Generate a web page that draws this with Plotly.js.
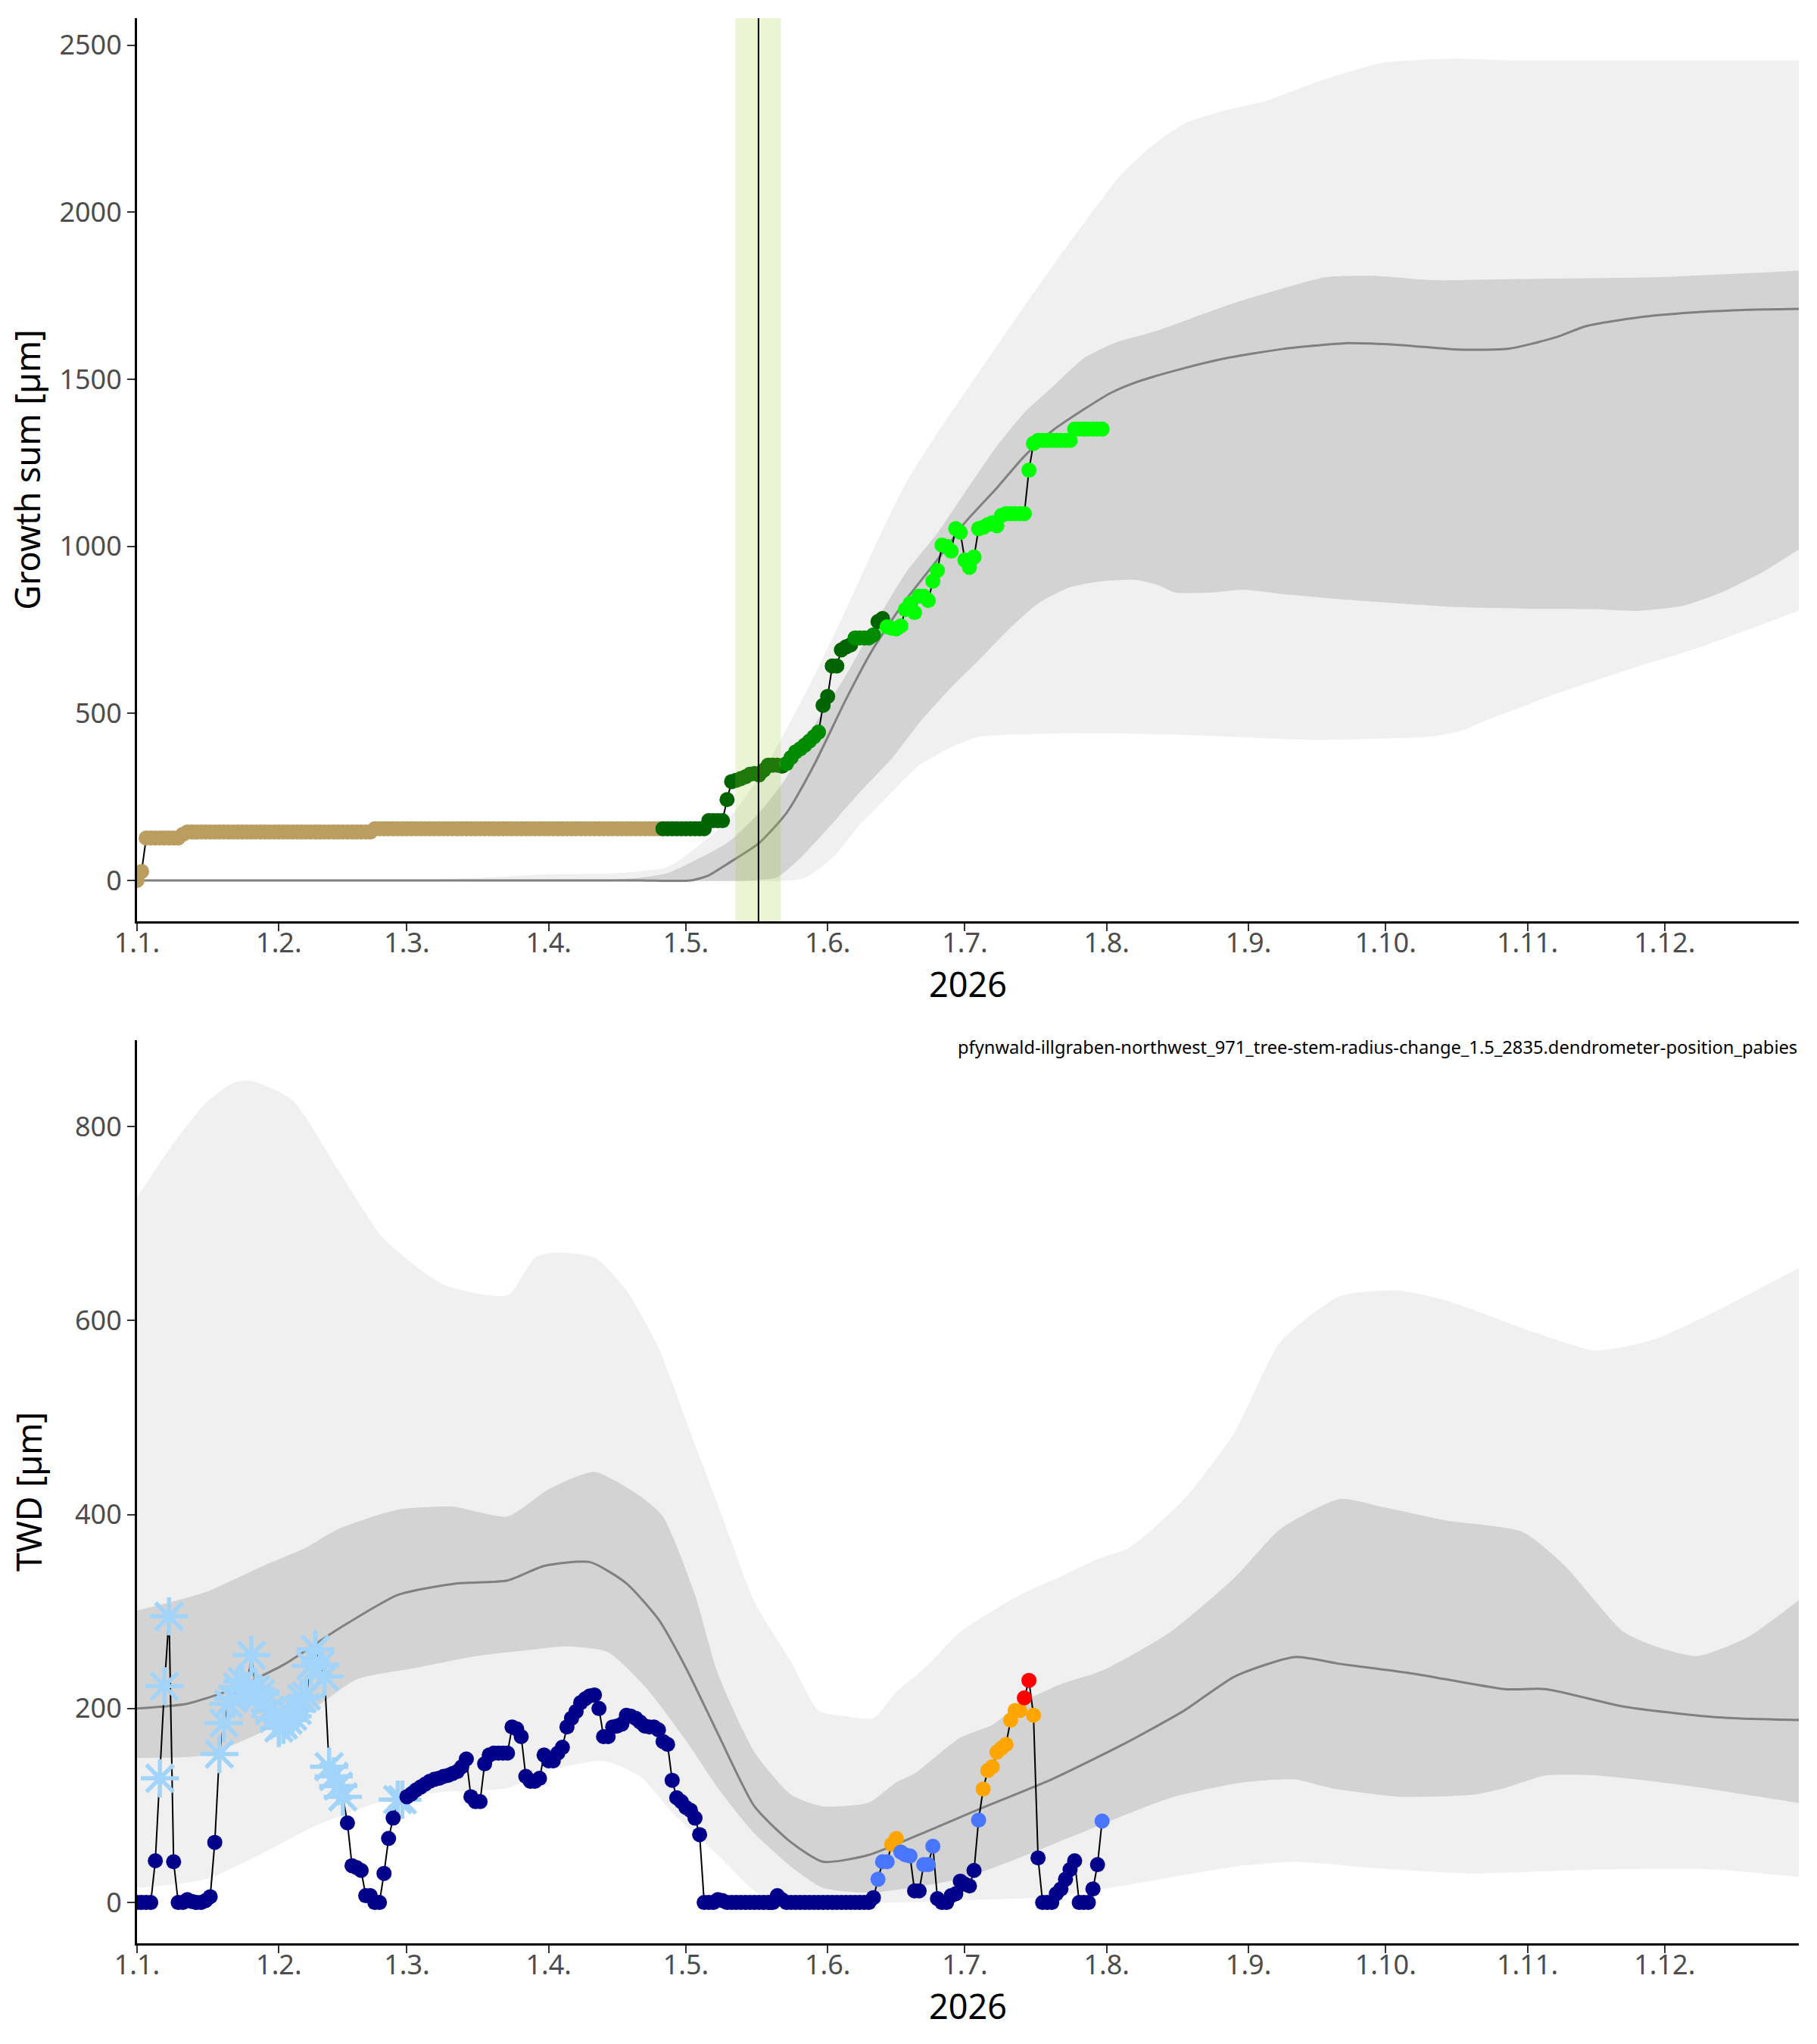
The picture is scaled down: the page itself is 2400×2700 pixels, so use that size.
<!DOCTYPE html>
<html>
<head>
<meta charset="utf-8">
<script src="https://cdn.plot.ly/plotly-3.0.1.min.js"></script>
<style>
html, body { margin: 0; padding: 0; background: #fff; }
#chart { width: 2400px; height: 2700px; }
</style>
</head>
<body>
<div id="chart"></div>
<script>
// daily series start on 1 Jan 2026, one value per day
const startDay = '2026-01-01';

// growth sum [µm], days 0..211
const growthSum = [
  0, 27, 127, 127, 127, 127, 127, 127, 127, 127,
  138, 145, 145, 145, 145, 145, 145, 145, 145, 145,
  145, 145, 145, 145, 145, 145, 145, 145, 145, 145,
  145, 145, 145, 145, 145, 145, 145, 145, 145, 145,
  145, 145, 145, 145, 145, 145, 145, 145, 145, 145,
  145, 145, 155, 155, 155, 155, 155, 155, 155, 155,
  155, 155, 155, 155, 155, 155, 155, 155, 155, 155,
  155, 155, 155, 155, 155, 155, 155, 155, 155, 155,
  155, 155, 155, 155, 155, 155, 155, 155, 155, 155,
  155, 155, 155, 155, 155, 155, 155, 155, 155, 155,
  155, 155, 155, 155, 155, 155, 155, 155, 155, 155,
  155, 155, 155, 155, 155, 155, 155, 155, 155, 155,
  155, 155, 155, 155, 155, 179, 179, 179, 179, 242,
  296, 300, 305, 310, 318, 320, 316, 330, 345, 345,
  345, 342, 350, 368, 385, 394, 405, 417, 430, 444,
  524, 551, 642, 642, 690, 699, 705, 726, 726, 726,
  726, 735, 775, 784, 759, 755, 753, 762, 811, 829,
  802, 851, 851, 838, 896, 928, 1004, 1000, 986, 1053,
  1042, 959, 937, 968, 1053, 1057, 1065, 1071, 1062, 1093,
  1098, 1098, 1098, 1098, 1098, 1228, 1308, 1317, 1317, 1317,
  1317, 1317, 1317, 1317, 1317, 1351, 1351, 1351, 1351, 1351,
  1351, 1351
];
// growth phases: first day of each phase and its colour
const phaseFrom = [0, 115, 142, 150, 157, 162, 164];
const phaseColor = ['#B99E60', '#006400', '#008B00', '#006400', '#008B00', '#006400', '#00FF00'];

// tree water deficit [µm], days 0..211
const twd = [
  0, 0, 0, 0, 43, 128, 223, 295, 42, 0,
  0, 3, 1, 0, 0, 2, 6, 62, 153, 185,
  205, 210, 222, 228, 218, 255, 220, 215, 205, 198,
  190, 180, 183, 188, 192, 198, 210, 213, 244, 261,
  245, 233, 140, 130, 120, 109, 82, 38, 36, 33,
  7, 7, 0, 0, 30, 66, 87, 106, 106, 109,
  112, 116, 119, 122, 125, 127, 128, 130, 131, 133,
  135, 140, 148, 109, 104, 104, 143, 152, 154, 154,
  154, 154, 181, 179, 171, 130, 125, 125, 128, 152,
  146, 146, 154, 160, 181, 190, 197, 206, 210, 213,
  214, 200, 171, 171, 181, 182, 184, 193, 192, 190,
  186, 182, 181, 181, 178, 166, 163, 126, 108, 104,
  98, 95, 87, 70, 0, 0, 0, 3, 2, 0,
  0, 0, 0, 0, 0, 0, 0, 0, 0, 0,
  7, 3, 0, 0, 0, 0, 0, 0, 0, 0,
  0, 0, 0, 0, 0, 0, 0, 0, 0, 0,
  0, 5, 24, 42, 42, 60, 66, 52, 49, 48,
  12, 12, 39, 39, 58, 4, 0, 0, 7, 9,
  22, 19, 17, 33, 85, 117, 136, 140, 155, 159,
  163, 188, 198, 198, 211, 229, 193, 46, 0, 0,
  0, 9, 14, 24, 34, 43, 0, 0, 0, 14,
  39, 84
];
const frozenDays = [5, 6, 7, 18, 19, 20, 21, 22, 23, 24, 25, 26, 27, 28, 29, 30, 31,
  32, 33, 34, 35, 36, 37, 38, 39, 40, 41, 42, 43, 44, 45, 57, 58];
const blueDays = [162, 163, 164, 167, 168, 169, 172, 173, 174, 184, 211];
const orangeDays = [165, 166, 185, 186, 187, 188, 189, 190, 191, 192, 193, 196];
const redDays = [194, 195];

// growth reference bands (day of year, value)
const gsOuterHiDay = [0, 30, 60, 75, 90, 105, 116, 122, 129, 136, 142, 148, 155, 162, 168, 175, 183, 194, 205, 215, 222, 229, 238, 247, 258, 272, 288, 300, 330, 364];
const gsOuterHiVal = [0, 0, 0, 8, 18, 22, 40, 95, 178, 309, 453, 610, 811, 1020, 1187, 1340, 1500, 1719, 1930, 2110, 2200, 2265, 2305, 2334, 2390, 2447, 2460, 2455, 2455, 2455];
const gsInnerHiDay = [0, 50, 100, 110, 116, 122, 129, 136, 142, 148, 155, 162, 168, 175, 181, 188, 194, 200, 207, 214, 222, 230, 240, 250, 260, 270, 283, 300, 333, 364];
const gsInnerHiVal = [0, 0, 0, 8, 22, 60, 112, 202, 309, 462, 614, 784, 919, 1040, 1161, 1300, 1400, 1475, 1563, 1610, 1641, 1680, 1729, 1770, 1806, 1810, 1797, 1800, 1806, 1826];
const gsMedDay = [0, 30, 60, 90, 110, 121, 125, 129, 136, 142, 148, 155, 161, 168, 175, 181, 188, 194, 200, 207, 213, 219, 228, 238, 250, 264, 276, 289, 300, 310, 317, 328, 340, 352, 364];
const gsMedVal = [0, 0, 0, 0, 0, 0, 15, 49, 112, 202, 345, 542, 695, 838, 960, 1071, 1175, 1270, 1345, 1410, 1460, 1494, 1530, 1563, 1590, 1608, 1603, 1589, 1592, 1625, 1660, 1685, 1700, 1708, 1711];
const gsInnerLoDay = [0, 50, 100, 135, 140, 145, 152, 158, 165, 171, 178, 184, 191, 197, 204, 211, 218, 223, 227, 235, 242, 250, 264, 275, 289, 305, 321, 328, 338, 346, 355, 364];
const gsInnerLoVal = [0, 0, 0, 0, 10, 67, 170, 264, 365, 471, 578, 659, 757, 829, 878, 896, 900, 885, 862, 862, 870, 858, 841, 830, 818, 813, 811, 807, 822, 860, 920, 997];
const gsOuterLoDay = [0, 50, 100, 143, 146, 152, 158, 165, 171, 178, 184, 191, 210, 230, 257, 283, 290, 295, 302, 308, 318, 327, 340, 352, 364];
const gsOuterLoVal = [0, 0, 0, 0, 8, 67, 166, 264, 345, 399, 430, 437, 441, 435, 421, 431, 450, 480, 515, 548, 595, 636, 690, 750, 811];

// TWD reference bands (day of year, value)
const twdOuterHiDay = [0, 8, 15, 21, 25, 34, 44, 54, 67, 81, 87, 91, 100, 107, 114, 122, 127, 135, 143, 149, 155, 161, 166, 173, 180, 193, 202, 210, 217, 229, 240, 250, 263, 275, 286, 306, 319, 332, 345, 364];
const twdOuterHiVal = [727, 783, 824, 845, 847, 827, 755, 684, 637, 626, 665, 670, 665, 631, 572, 472, 410, 310, 248, 198, 192, 190, 217, 245, 279, 317, 336, 354, 366, 416, 485, 578, 625, 631, 621, 587, 569, 581, 609, 656];
const twdInnerHiDay = [0, 15, 28, 37, 44, 57, 69, 81, 90, 100, 110, 115, 122, 127, 135, 143, 150, 160, 166, 170, 180, 187, 193, 202, 211, 226, 240, 250, 263, 273, 286, 303, 312, 325, 332, 341, 352, 364];
const twdInnerHiVal = [301, 320, 348, 366, 385, 405, 408, 398, 426, 444, 419, 398, 317, 236, 155, 111, 99, 103, 124, 133, 170, 183, 205, 225, 239, 279, 335, 385, 416, 407, 394, 382, 348, 279, 264, 254, 273, 314];
const twdMedDay = [0, 11, 21, 32, 44, 57, 70, 81, 89, 99, 107, 114, 120, 127, 135, 143, 150, 160, 173, 184, 200, 216, 229, 240, 253, 263, 279, 299, 308, 325, 345, 364];
const twdMedVal = [200, 205, 220, 245, 282, 317, 329, 332, 347, 351, 329, 292, 242, 174, 99, 62, 42, 49, 74, 96, 127, 164, 198, 233, 253, 246, 236, 220, 220, 202, 191, 188];
const twdInnerLoDay = [0, 15, 28, 38, 48, 61, 74, 87, 94, 103, 111, 120, 127, 135, 143, 150, 160, 173, 182, 195, 206, 226, 242, 253, 261, 276, 292, 299, 308, 319, 338, 364];
const twdInnerLoVal = [149, 152, 177, 198, 230, 242, 254, 261, 264, 258, 223, 167, 118, 71, 37, 15, 10, 18, 27, 50, 71, 108, 124, 127, 118, 109, 111, 118, 131, 131, 121, 102];
const twdOuterLoDay = [0, 15, 28, 38, 54, 67, 81, 90, 102, 110, 117, 127, 135, 140, 165, 185, 200, 220, 240, 253, 272, 292, 319, 345, 364];
const twdOuterLoVal = [15, 24, 52, 77, 105, 114, 118, 136, 146, 130, 93, 49, 12, 0, 0, 3, 6, 21, 37, 42, 35, 30, 34, 34, 26];

// growth onset marker
const onsetDate = '2026-05-16 21:00';
const onsetFrom = '2026-05-11 19:00';
const onsetTo = '2026-05-21 18:00';

const t0 = Date.parse(startDay + 'T00:00:00Z');
function toDate(d) {
  return new Date(t0 + d * 86400000).toISOString().slice(0, 19).replace('T', ' ');
}

const GREY_OUT = '#F0F0F0', GREY_IN = '#D3D3D3';
const SMOOTH = 0.6;

function bandTraces(loDay, loVal, hiDay, hiVal, color, xa, ya) {
  return [
    {x: loDay.map(toDate), y: loVal, xaxis: xa, yaxis: ya, type: 'scatter', mode: 'lines',
     line: {width: 0, shape: 'spline', smoothing: SMOOTH}, hoverinfo: 'skip', showlegend: false},
    {x: hiDay.map(toDate), y: hiVal, xaxis: xa, yaxis: ya, type: 'scatter', mode: 'lines',
     fill: 'tonexty', fillcolor: color,
     line: {width: 0, shape: 'spline', smoothing: SMOOTH}, hoverinfo: 'skip', showlegend: false}
  ];
}

function medTrace(day, val, xa, ya) {
  return {x: day.map(toDate), y: val, xaxis: xa, yaxis: ya, type: 'scatter', mode: 'lines',
    line: {color: '#808080', width: 3, shape: 'spline', smoothing: SMOOTH},
    hoverinfo: 'skip', showlegend: false};
}

const gsDates = growthSum.map((v, i) => toDate(i));
const gsColors = growthSum.map((v, i) => {
  let c = phaseColor[0];
  phaseFrom.forEach((f, k) => { if (i >= f) c = phaseColor[k]; });
  return c;
});

const twdDates = twd.map((v, i) => toDate(i));
function twdColor(i) {
  if (redDays.includes(i)) return '#FF0000';
  if (orangeDays.includes(i)) return '#FFA500';
  if (blueDays.includes(i)) return '#4876FF';
  return '#00008B';
}
const dotIdx = twd.map((v, i) => i).filter(i => !frozenDays.includes(i));

const data = [
  ...bandTraces(gsOuterLoDay, gsOuterLoVal, gsOuterHiDay, gsOuterHiVal, GREY_OUT, 'x', 'y'),
  ...bandTraces(gsInnerLoDay, gsInnerLoVal, gsInnerHiDay, gsInnerHiVal, GREY_IN, 'x', 'y'),
  medTrace(gsMedDay, gsMedVal, 'x', 'y'),
  {x: gsDates, y: growthSum, xaxis: 'x', yaxis: 'y', type: 'scatter', mode: 'lines',
   line: {color: 'black', width: 2}, showlegend: false},
  {x: gsDates, y: growthSum, xaxis: 'x', yaxis: 'y', type: 'scatter', mode: 'markers',
   marker: {color: gsColors, size: 20}, showlegend: false},

  ...bandTraces(twdOuterLoDay, twdOuterLoVal, twdOuterHiDay, twdOuterHiVal, GREY_OUT, 'x2', 'y2'),
  ...bandTraces(twdInnerLoDay, twdInnerLoVal, twdInnerHiDay, twdInnerHiVal, GREY_IN, 'x2', 'y2'),
  medTrace(twdMedDay, twdMedVal, 'x2', 'y2'),
  {x: twdDates, y: twd, xaxis: 'x2', yaxis: 'y2', type: 'scatter', mode: 'lines',
   line: {color: 'black', width: 2}, showlegend: false},
  {x: frozenDays.map(toDate), y: frozenDays.map(i => twd[i]), xaxis: 'x2', yaxis: 'y2',
   type: 'scatter', mode: 'markers',
   marker: {symbol: 'asterisk-open', size: 42, color: '#A2D4FA', line: {color: '#A2D4FA', width: 5.5}},
   showlegend: false},
  {x: dotIdx.map(toDate), y: dotIdx.map(i => twd[i]), xaxis: 'x2', yaxis: 'y2',
   type: 'scatter', mode: 'markers',
   marker: {color: dotIdx.map(twdColor), size: 20}, showlegend: false}
];

const tickFont = {family: 'Noto Sans', size: 36, color: '#4D4D4D'};
const titleFont = {family: 'Noto Sans', size: 45, color: 'black'};

function xAxis(anchor) {
  return {
    anchor: anchor, type: 'date',
    range: ['2026-01-01', '2026-12-30 08:00'],
    tick0: '2026-01-01', dtick: 'M1', tickformat: '%-d.%-m.',
    ticks: 'outside', ticklen: 10, tickwidth: 2, tickcolor: '#333333',
    ticklabelstandoff: -15,
    showline: true, linecolor: 'black', linewidth: 3,
    showgrid: false, zeroline: false, tickfont: tickFont,
    title: {text: '2026', font: titleFont, standoff: 12}
  };
}
function yAxis(domain, anchor, range, dtick, label, standoff) {
  return {
    domain: domain, anchor: anchor, range: range, dtick: dtick, tick0: 0,
    ticks: 'outside', ticklen: 10, tickwidth: 2, tickcolor: '#333333',
    showline: true, linecolor: 'black', linewidth: 3,
    showgrid: false, zeroline: false, tickfont: tickFont,
    title: {text: label, font: titleFont, standoff: standoff}
  };
}

const layout = {
  width: 2400, height: 2700,
  margin: {l: 181, r: 24, t: 0, b: 0},
  paper_bgcolor: 'white', plot_bgcolor: 'white',
  showlegend: false,
  font: {family: 'Noto Sans'},
  xaxis: xAxis('y'),
  yaxis: yAxis([0.5493, 0.9911], 'x', [-122, 2581], 500, 'Growth sum [µm]', 11),
  xaxis2: xAxis('y2'),
  yaxis2: yAxis([0.0493, 0.4911], 'x2', [-42, 889], 200, 'TWD [µm]', 30),
  shapes: [
    {type: 'rect', xref: 'x', yref: 'y domain', x0: onsetFrom, x1: onsetTo, y0: 0, y1: 1,
     fillcolor: 'rgba(154,205,50,0.2)', line: {width: 0}, layer: 'above'},
    {type: 'line', xref: 'x', yref: 'y domain', x0: onsetDate, x1: onsetDate, y0: 0, y1: 1,
     line: {color: 'black', width: 2}, layer: 'above'}
  ],
  annotations: [
    {xref: 'paper', yref: 'paper', x: 1, y: 0.4878, xanchor: 'right', yanchor: 'middle',
     showarrow: false,
     text: 'pfynwald-illgraben-northwest_971_tree-stem-radius-change_1.5_2835.dendrometer-position_pabies',
     font: {family: 'Noto Sans', size: 23.7, color: 'black'}}
  ]
};

Plotly.newPlot('chart', data, layout, {staticPlot: true});
</script>
</body>
</html>
